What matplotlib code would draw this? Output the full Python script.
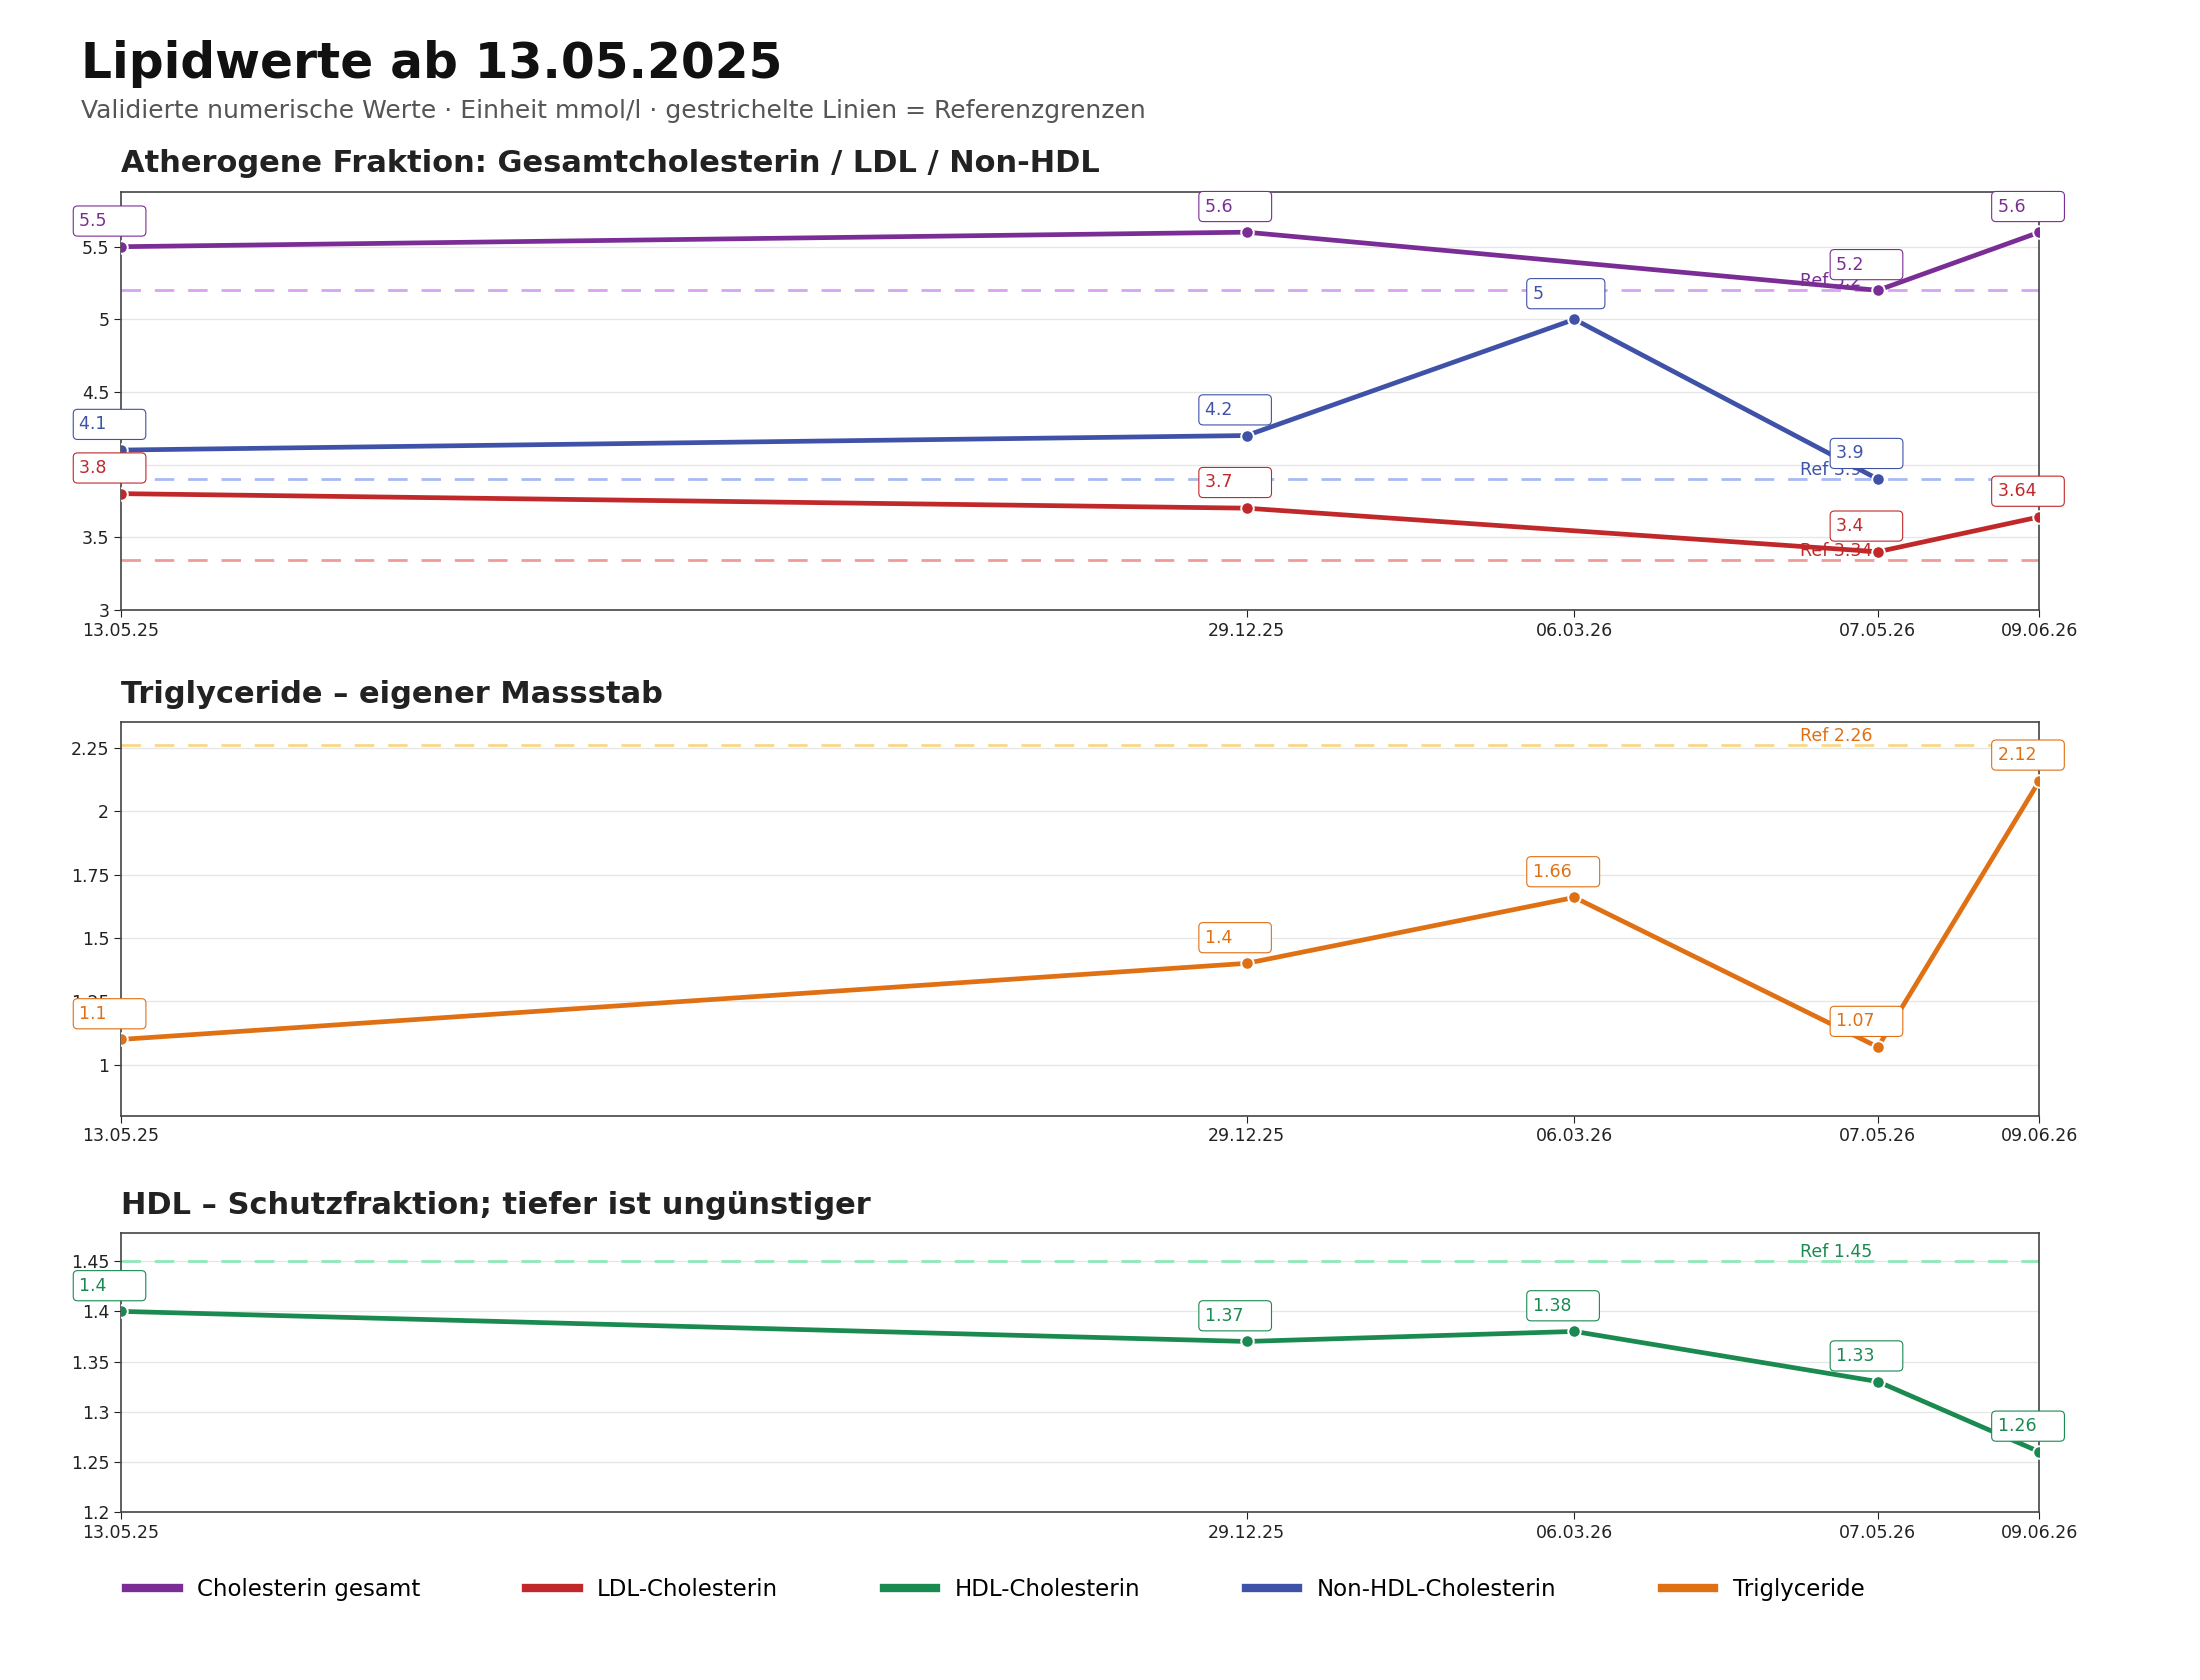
import matplotlib
matplotlib.use("Agg")
import matplotlib.pyplot as plt
import matplotlib.dates as mdates
import numpy as np
import pandas as pd

# data
dates = ["2025-05-13", "2025-12-29", "2026-03-06", "2026-05-07", "2026-06-09"]
chol_total = [5.5, 5.6, None, 5.2, 5.6]
ldl = [3.8, 3.7, None, 3.4, 3.64]
non_hdl = [4.1, 4.2, 5.0, 3.9, None]
trig = [1.1, 1.4, 1.66, 1.07, 2.12]
hdl = [1.4, 1.37, 1.38, 1.33, 1.26]

ref_chol, ref_nonhdl, ref_ldl, ref_trig, ref_hdl = 5.2, 3.9, 3.34, 2.26, 1.45

C_CHOL, C_LDL, C_HDL, C_NON, C_TRIG = "#7b2d96", "#c0282a", "#1a8a50", "#3f52a8", "#e07014"
R_CHOL, R_LDL, R_HDL, R_NON, R_TRIG = "#d6a4f0", "#f09a9a", "#8ee8b8", "#a8baf4", "#f8d88a"

x = pd.to_datetime(dates)


def fmt(v):
    return f"{v:g}"


def draw_series(ax, vals, color):
    xs = [d for d, v in zip(x, vals) if v is not None]
    ys = [v for v in vals if v is not None]
    ax.plot(xs, ys, color=color, lw=3.4, marker="o", ms=9,
            markeredgecolor="white", markeredgewidth=1.4, zorder=4)
    for d, v in zip(xs, ys):
        label = fmt(v).ljust(6).replace(" ", "\u2007")
        ax.annotate(label, (d, v), xytext=(-30, 12), textcoords="offset points",
                    fontsize=12.5, color=color, ha="left", va="bottom", zorder=6,
                    bbox=dict(boxstyle="round,pad=0.35,rounding_size=0.25", fc="white",
                              ec=color, lw=0.8))


def draw_ref(ax, val, line_color, text_color):
    ax.axhline(val, color=line_color, lw=2.0, ls=(0, (7, 5)), zorder=2)
    ax.text(x[3] - pd.Timedelta(days=16), val, f"Ref {fmt(val)}", color=text_color,
            fontsize=12.5, ha="left", va="bottom", zorder=3)


def style(ax, ylim, yticks, title):
    ax.set_xlim(x[0], x[-1])
    ax.set_ylim(*ylim)
    ax.set_yticks(yticks)
    ax.set_yticklabels([fmt(t) for t in yticks])
    ax.set_xticks(x)
    ax.xaxis.set_major_formatter(mdates.DateFormatter("%d.%m.%y"))
    ax.tick_params(labelsize=12.5, length=5, colors="#222222")
    ax.grid(axis="y", color="#e6e6e6", lw=0.9, zorder=0)
    for s in ax.spines.values():
        s.set_color("#444444")
        s.set_linewidth(1.2)
    ax.set_title(title, loc="left", fontsize=22, fontweight="bold", color="#222222", pad=14)


fig = plt.figure(figsize=(22, 16.8), dpi=100)
fig.text(0.037, 0.962, "Lipidwerte ab 13.05.2025", fontsize=35, fontweight="bold",
         color="#111111", va="center")
fig.text(0.037, 0.934, "Validierte numerische Werte · Einheit mmol/l · gestrichelte Linien = Referenzgrenzen",
         fontsize=18, color="#555555", va="center")

ax1 = fig.add_axes([0.055, 0.637, 0.872, 0.249])
ax2 = fig.add_axes([0.055, 0.336, 0.872, 0.234])
ax3 = fig.add_axes([0.055, 0.100, 0.872, 0.166])

draw_ref(ax1, ref_chol, R_CHOL, C_CHOL)
draw_ref(ax1, ref_nonhdl, R_NON, C_NON)
draw_ref(ax1, ref_ldl, R_LDL, C_LDL)
draw_series(ax1, chol_total, C_CHOL)
draw_series(ax1, non_hdl, C_NON)
draw_series(ax1, ldl, C_LDL)
style(ax1, (3, 5.88), [3, 3.5, 4, 4.5, 5, 5.5],
      "Atherogene Fraktion: Gesamtcholesterin / LDL / Non-HDL")

draw_ref(ax2, ref_trig, R_TRIG, C_TRIG)
draw_series(ax2, trig, C_TRIG)
style(ax2, (0.8, 2.35), [1, 1.25, 1.5, 1.75, 2, 2.25], "Triglyceride – eigener Massstab")

draw_ref(ax3, ref_hdl, R_HDL, C_HDL)
draw_series(ax3, hdl, C_HDL)
style(ax3, (1.2, 1.478), [1.2, 1.25, 1.3, 1.35, 1.4, 1.45],
      "HDL – Schutzfraktion; tiefer ist ungünstiger")

names = ["Cholesterin gesamt", "LDL-Cholesterin", "HDL-Cholesterin", "Non-HDL-Cholesterin", "Triglyceride"]
colors = [C_CHOL, C_LDL, C_HDL, C_NON, C_TRIG]
handles = [plt.Line2D([], [], color=c, lw=6) for c in colors]
fig.legend(handles, names, loc="center left", bbox_to_anchor=(0.048, 0.054), ncol=5,
           frameon=False, fontsize=16.5, handlelength=2.3, columnspacing=4.6)

fig.savefig("out.png", dpi=100, facecolor="white")
